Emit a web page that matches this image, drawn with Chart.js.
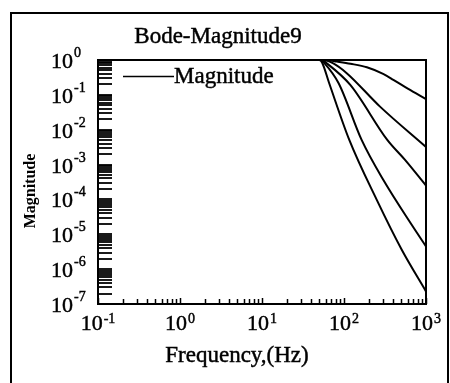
<!DOCTYPE html>
<html>
<head>
<meta charset="utf-8">
<script src="https://cdn.jsdelivr.net/npm/chart.js@4/dist/chart.umd.min.js"></script>
<style>
  html, body { margin: 0; padding: 0; background: #fff; }
  #c { display: block; }
</style>
</head>
<body>
<canvas id="c" width="450" height="383"></canvas>
<script>
// ---- data ----
const chartTitle = 'Bode-Magnitude9';
const xAxisTitle = 'Frequency,(Hz)';
const yAxisTitle = 'Magnitude';
const legendLabel = 'Magnitude';

const xTickExponents = ['-1', '0', '1', '2', '3'];
const yTickExponents = ['0', '-1', '-2', '-3', '-4', '-5', '-6', '-7'];

const freq1 = [0.1, 60, 82, 120, 190, 300, 400, 600, 1000];
const mag1  = [1, 1, 0.9, 0.78, 0.62, 0.4, 0.27, 0.15, 0.075];

const freq2 = [0.1, 55, 74, 108, 275, 1000];
const mag2  = [1, 1, 0.8, 0.42, 0.046, 0.0032];

const freq3 = [0.1, 53, 64, 120, 337, 555, 1000];
const mag3  = [1, 1, 0.75, 0.19, 0.0051, 0.00136, 0.00025];

const freq4 = [0.1, 52, 58, 86, 164, 301, 669, 1000];
const mag4  = [1, 1, 0.8, 0.215, 0.0051, 0.000365, 0.0000187, 0.0000045];

const freq5 = [0.1, 50, 54, 66, 116, 251, 506, 1000];
const mag5  = [1, 1, 0.85, 0.215, 0.0051, 0.000097, 0.0000036, 0.00000023];

const seriesFreq = [freq1, freq2, freq3, freq4, freq5];
const seriesMag  = [mag1, mag2, mag3, mag4, mag5];

// ---- build datasets ----
const datasets = seriesFreq.map((fr, i) => ({
  label: legendLabel,
  data: fr.map((f, j) => ({ x: f, y: seriesMag[i][j] })),
  borderColor: '#000',
  borderWidth: 2,
  pointRadius: 0,
  cubicInterpolationMode: 'monotone',
  fill: false,
  clip: 2
}));

const SERIF = '"Liberation Serif", "DejaVu Serif", serif';

function boldText(ctx, s, x, y) {
  ctx.fillText(s, x, y);
  ctx.strokeText(s, x, y);
}

const decor = {
  id: 'decor',
  afterDraw(chart) {
    const ctx = chart.ctx;
    const a = chart.chartArea;
    const xs = chart.scales.x, ys = chart.scales.y;
    ctx.save();
    ctx.strokeStyle = '#000';
    ctx.fillStyle = '#000';

    // outer frame of the figure
    ctx.lineWidth = 2;
    ctx.beginPath();
    ctx.moveTo(11, 400);
    ctx.lineTo(11, 13);
    ctx.lineTo(448, 13);
    ctx.lineTo(448, 400);
    ctx.stroke();

    // plot frame
    ctx.lineWidth = 2;
    ctx.strokeRect(a.left, a.top, a.right - a.left, a.bottom - a.top);

    // y minor/major ticks (inward from left axis)
    ctx.lineWidth = 1.8;
    for (let e = -7; e <= 0; e++) {
      for (let m = 1; m <= 9; m++) {
        const v = m * Math.pow(10, e);
        if (v > 1.0001) break;
        const py = Math.round(ys.getPixelForValue(v));
        ctx.beginPath();
        ctx.moveTo(a.left, py);
        ctx.lineTo(a.left + 14, py);
        ctx.stroke();
      }
    }
    // x minor/major ticks (inward from bottom axis)
    ctx.lineWidth = 1.5;
    for (let e = -1; e <= 3; e++) {
      for (let m = 1; m <= 9; m++) {
        const v = m * Math.pow(10, e);
        if (v > 1000.0001) break;
        const px = Math.round(xs.getPixelForValue(v)) + 0.5;
        ctx.beginPath();
        ctx.moveTo(px, a.bottom);
        ctx.lineTo(px, a.bottom - (m === 1 ? 6 : 5));
        ctx.stroke();
      }
    }

    ctx.lineWidth = 0.45;
    // y tick labels
    ctx.textBaseline = 'alphabetic';
    ctx.textAlign = 'left';
    yTickExponents.forEach(ex => {
      const py = ys.getPixelForValue(Math.pow(10, Number(ex)));
      ctx.font = '22px ' + SERIF;
      boldText(ctx, '10', 51, py + 8);
      const w = ctx.measureText('10').width;
      ctx.font = '14px ' + SERIF;
      boldText(ctx, ex, 51 + w + 1, py - 3);
    });

    // x tick labels
    xTickExponents.forEach(ex => {
      const px = xs.getPixelForValue(Math.pow(10, Number(ex)));
      ctx.font = '22px ' + SERIF;
      const w1 = ctx.measureText('10').width;
      ctx.font = '14px ' + SERIF;
      const w2 = ctx.measureText(ex).width;
      const x0 = px - (w1 + 1 + w2) / 2;
      ctx.font = '22px ' + SERIF;
      boldText(ctx, '10', x0, 330);
      ctx.font = '14px ' + SERIF;
      boldText(ctx, ex, x0 + w1 + 1, 323);
    });

    // title
    ctx.textAlign = 'center';
    ctx.font = '23px ' + SERIF;
    boldText(ctx, chartTitle, 218, 43);

    // x axis title
    ctx.font = '23px ' + SERIF;
    boldText(ctx, xAxisTitle, 237, 362);

    // y axis title (rotated)
    ctx.save();
    ctx.translate(35, 191);
    ctx.rotate(-Math.PI / 2);
    ctx.font = 'bold 16px ' + SERIF;
    ctx.fillText(yAxisTitle, 0, 0);
    ctx.restore();

    // legend
    ctx.lineWidth = 1.5;
    ctx.beginPath();
    ctx.moveTo(123, 76.5);
    ctx.lineTo(174, 76.5);
    ctx.stroke();
    ctx.lineWidth = 0.45;
    ctx.textAlign = 'left';
    ctx.font = '23px ' + SERIF;
    boldText(ctx, legendLabel, 174, 83);

    ctx.restore();
  }
};

new Chart(document.getElementById('c'), {
  type: 'line',
  data: { datasets },
  options: {
    responsive: false,
    animation: false,
    events: [],
    layout: { padding: { left: 98, top: 60, right: 24, bottom: 79 } },
    scales: {
      x: { type: 'logarithmic', min: 0.1, max: 1000, display: false },
      y: { type: 'logarithmic', min: 1e-7, max: 1, display: false }
    },
    plugins: {
      legend: { display: false },
      title: { display: false },
      tooltip: { enabled: false }
    }
  },
  plugins: [decor]
});
</script>
</body>
</html>
